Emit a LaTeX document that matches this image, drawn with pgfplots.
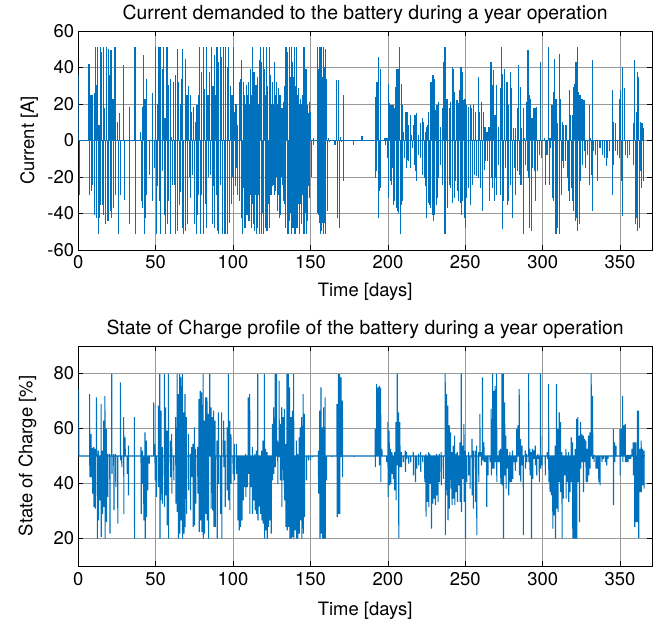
\documentclass[border=0pt]{standalone}
\usepackage{pgfplots}
\pgfplotsset{compat=1.18}
\usepackage{fontspec}
\setmainfont{TeX Gyre Heros}
\definecolor{mblue}{RGB}{0,114,189}
\pgfplotsset{
  mstyle/.style={
    scale only axis,
    xmin=0, xmax=370.6,
    xtick={0,50,...,350},
    grid=major,
    major grid style={black!40, line width=0.7bp},
    axis line style={black, line width=0.8bp},
    tick align=inside,
    major tick length=5bp,
    tick style={black, line width=0.7bp},
    xtick pos=both, ytick pos=both,
    /pgf/number format/assume math mode=true,
    tick label style={font=\fontsize{18.5}{20}\selectfont},
    label style={font=\fontsize{18.5}{20}\selectfont},
    title style={font=\fontsize{19.5}{22}\selectfont, at={(axis description cs:0.5,1)}, anchor=base, yshift=6bp},
    xticklabel style={anchor=base, yshift=-19bp},
    yticklabel style={anchor=east, inner sep=1bp, xshift=-3bp},
    cycle list={{mblue, line width=1.1bp, no markers}},
  }
}
\begin{document}
\begin{tikzpicture}
\useasboundingbox (0,0) rectangle (668bp,628bp);
\begin{axis}[mstyle,
  at={(78.3bp,378bp)}, anchor=south west,
  width=573.7bp, height=219bp,
  ymin=-60, ymax=60, ytick={-60,-40,...,60},
  title={Current demanded to the battery during a year operation},
  xlabel={Time [days]}, ylabel={Current [A]},
  xlabel style={at={(axis description cs:0.5,0)}, anchor=base, yshift=-47bp},
  ylabel style={at={(axis description cs:-0.077,0.5)}, anchor=base},
]
\addplot[mblue, line width=1.1bp, no markers] coordinates {(0,0)(365.5,0)};
\addplot[mblue, line width=1.1bp, no markers, ycomb] coordinates {
(0.4,36)(0.6,-30)
(6.9,42.1)(7.2,-29.7)(8.2,24.9)(8.5,-27.8)(9.1,24.9)(9.4,-24.2)(10.4,25.8)(10.7,-40.6)
(11.2,51.2)(11.5,-42.4)(11.6,30.3)(11.9,-20.6)(12.5,51.2)(12.8,-51.5)(13.4,8.5)(13.7,-42.4)
(14.2,51.2)(14.5,-35.1)(15.1,48.5)(15.4,-35.1)(16.0,51.2)(16.3,-40.6)(17.2,17.6)(17.5,-46.0)
(18.5,51.2)(18.8,-44.2)(19.4,50.3)(19.7,-44.2)(20.3,35.8)(20.6,-38.7)(21.1,49.4)(21.4,-42.4)
(22.4,23.0)(22.7,-36.9)(23.7,51.2)(24.0,-30.0)(25.4,10.3)(25.7,-51.5)(26.7,15.0)(27.0,-30.0)
(29.3,41.2)(29.6,-32.4)(32.8,18.5)(33.1,-46.0)(36.6,51.2)(36.9,-51.5)
(40.3,4.9)(40.6,-33.3)(41.4,18.5)(41.7,-36.9)(42.2,47.0)(42.5,-51.5)(43.1,23.0)(43.4,-42.4)
(44.0,33.9)(44.3,-30.0)(45.7,0.5)(46.0,-18.7)
(47.8,25.8)(48.1,-33.3)(48.7,0)(49.0,-15.0)
(50.0,51.2)(50.3,-51.5)(51.0,20)(51.3,-25)(52.1,51.2)(52.4,-33.3)(53.0,51.2)(53.3,-51.5)
(54.3,39.4)(54.6,-16.9)(55.1,51.2)(55.4,-40.6)(56.0,12.1)(56.3,-51.5)(57.3,51.2)(57.6,-46.0)
(58.2,30.3)(58.5,-33.3)(59.5,33.9)(59.8,-51.5)(60.3,2)(60.6,-24.2)(61.6,32.1)(61.9,-24.2)
(62.5,35.8)(62.8,-51.5)(63.8,50.3)(64.1,-49.6)(65.0,32.1)(65.3,-35.1)(65.9,20)(66.2,-28)
(66.8,33.9)(67.1,-47.8)(67.6,50.3)(67.9,-51.5)(69.0,44.9)(69.3,-49.6)(70.2,24.9)(70.5,-46.0)
(71.3,30)(71.6,-20)(72.4,24.9)(72.7,-31.5)(73.2,15.8)(73.5,-18.7)(74.5,18.5)(74.8,-46.0)
(75.8,10.3)(76.1,-51.5)(76.7,19.4)(77.0,-40.6)(77.6,25)(77.9,-30)(78.4,51.2)(78.7,-51.5)
(79.3,37.6)(79.6,-30.0)(80.6,51.2)(80.9,-51.5)(81.7,28)(82.0,-35)(82.7,51.2)(83.0,-47.8)
(83.8,25)(84.1,-20)(84.9,37.6)(85.2,-18.7)(86.2,51.2)(86.5,-46.0)(87.0,30)(87.3,-25)
(87.9,46.7)(88.2,-47.8)(88.8,25)(89.1,-30)(89.6,51.2)(89.9,-49.6)(90.5,43.0)(90.8,-51.5)
(91.8,51.2)(92.1,-24.2)(92.6,45.8)(92.9,-51.5)(93.9,51.2)(94.2,-51.5)(95.0,51.2)(95.3,-51.5)
(96.2,40)(96.5,-51.5)(97.3,51.2)(97.6,-45)(98.5,30)(98.8,-35)(99.3,25)(99.6,-20)
(100.1,51.2)(100.4,-30)(101.0,15.8)(101.3,-25)(101.9,20)(102.2,-15)(102.7,8.5)(103.0,-29.7)
(104.0,32.1)(104.3,-33.3)(104.9,33.9)(105.2,-42.4)(105.7,43.9)(106.0,-51.5)(106.6,32.1)(106.9,-26.0)
(107.4,24.9)(107.7,-47.8)(108.1,20)(108.4,-30)(108.7,30.3)(109.0,-40.6)(109.4,25)(109.7,-20)
(110.0,32.1)(110.3,-44.2)(110.7,20)(111.0,-30)(111.3,39.4)(111.6,-47.8)(112.0,25)(112.3,-35)
(112.6,51.2)(112.9,-46.0)(113.5,37.6)(113.8,-49.6)(114.2,25)(114.5,-30)(114.8,30.3)(115.1,-51.5)
(115.6,34.9)(115.9,-47.8)(116.3,20)(116.6,-30)(116.9,43.9)(117.2,-51.5)(117.8,51.2)(118.1,-51.5)
(118.6,43.0)(118.9,-40)(119.5,51.2)(119.8,-51.5)(120.4,39.4)(120.7,-47.8)(121.0,25)(121.3,-30)
(121.6,51.2)(121.9,-49.6)(122.5,30)(122.8,-35)(123.4,51.2)(123.7,-47.8)(124.2,35.8)(124.5,-29.7)
(124.9,20)(125.2,-25)(125.5,32.1)(125.8,-24.2)(126.2,20)(126.5,-30)(126.8,43.0)(127.1,-27.8)
(127.5,25)(127.8,-20)(128.1,32.1)(128.4,-38.7)(128.8,20)(129.1,-30)(129.4,28.5)(129.7,-42.4)
(130.3,24.9)(130.6,-40.6)(131.0,15)(131.3,-20)(131.6,17.6)(131.9,-24.2)(132.4,21.2)(132.7,-33.3)
(133.1,30)(133.4,-35)(133.7,51.2)(134.0,-47.8)(134.6,51.2)(134.9,-51.5)(135.4,48.5)(135.7,-51.5)
(136.3,51.2)(136.6,-44.2)(137.0,35)(137.3,-40)(137.6,51.2)(137.9,-51.5)(138.4,43.0)(138.7,-47.8)
(139.1,35)(139.4,-40)(139.7,51.2)(140.0,-51.5)(140.4,30)(140.7,-35)(141.0,51.2)(141.3,-47.8)
(141.7,25)(142.0,-35)(142.3,28.5)(142.6,-51.5)(142.9,20)(143.2,-35)(143.6,23.0)(143.9,-46.0)
(144.3,20)(144.6,-30)(144.9,24.9)(145.2,-51.5)(145.8,51.2)(146.1,-51.5)(146.5,30)(146.8,-40)
(147.1,39.4)(147.4,-51.5)(147.9,19.4)(148.2,-44.2)(148.5,15)(148.8,-25)(149.2,21.2)(149.5,-31.5)
(150.1,15.8)(150.4,-20.0)(151.8,1.2)(152.1,-2.4)
(154.4,51.2)(154.6,-40)(154.8,17.6)(155.0,-24.2)(155.2,39.4)(155.5,-40.6)(155.8,30)(156.0,-45)
(156.1,51.2)(156.4,-51.5)(157.0,51.2)(157.3,-49.6)(157.7,35)(158.0,-45)(158.3,51.2)(158.6,-51.5)
(158.9,40)(159.2,-45)(159.5,50.3)(159.8,-51.5)(160.4,33.9)(160.7,-38.7)
(161.7,1.2)(162.0,-0.6)(165.8,-2.4)
(166.9,33.0)(167.2,-42.4)(168.2,33.0)(168.5,-47.8)
(169.5,2)(169.8,-0.8)(171.2,24.9)(171.5,-22.4)
(177.6,-2.4)(183.1,2.5)(183.3,2.5)(183.5,2.5)(183.6,2.5)
(191.7,24)(192.0,-20.6)(192.5,32.1)(192.8,-16.9)(193.4,32.1)(193.7,-42.4)(194.2,45.8)(194.5,-27.8)
(195.1,39.4)(195.4,-26.0)(198.1,1.2)(198.4,-2.4)
(199.4,1.2)(199.7,-9.7)
(200.3,31.2)(200.6,-31.5)(201.1,20.3)(201.4,-22.4)(202.0,19.4)(202.3,-24.2)(202.7,10)(203.0,-15)
(203.3,19.4)(203.6,-35.1)(204.1,17.6)(204.4,-33.3)(205.0,29.4)(205.3,-36.9)(205.9,39.4)(206.2,-38.7)
(206.7,39.4)(207.0,-39.6)(207.6,51.2)(207.9,-51.5)(208.5,31.2)(208.8,-35.1)(209.3,19.4)(209.6,-33.3)
(210.2,4.9)(210.5,-9.7)(211.5,15.8)(211.8,-15.1)(212.3,15.8)(212.6,-10.6)(213.2,8.5)(213.5,-11.5)
(214.5,14.0)(214.8,-15.1)(215.3,3.1)(215.6,-4.2)(216.6,8.5)(216.9,-13.3)(217.5,14.0)(217.8,-16.9)
(218.4,14.9)(218.7,-22.4)(219.7,3.1)(220.0,-7.8)(220.9,9.4)(221.2,-9.7)(222.2,12.1)(222.5,-18.7)
(223.1,10.3)(223.4,-20.6)(224.0,4.9)(224.3,-25.0)(224.8,7.6)(225.1,-42.4)(225.7,8.5)(226.0,-34.2)
(226.5,15.8)(226.8,-35.1)(227.4,32.1)(227.7,-36.9)(228.3,32.1)(228.6,-40.6)(229.1,35.8)(229.4,-44.2)
(230.0,33.9)(230.3,-40.6)(230.9,16.7)(231.2,-35.1)(231.7,19.4)(232.0,-31.5)(232.6,21.2)(232.9,-20.6)
(233.9,7.6)(234.2,-13.3)(235.2,17.6)(235.5,-24.2)(236.0,43.0)(236.3,-51.5)(236.9,51.2)(237.2,-51.5)
(238.2,23.0)(238.5,-36.9)(239.5,17.6)(239.8,-24.2)(240.3,21.2)(240.6,-26.0)(241.6,40.3)(241.9,-34.2)
(242.5,39.4)(242.8,-31.5)(243.3,26.7)(243.6,-22.4)(244.6,22.1)(244.9,-27.8)(245.5,20.3)(245.8,-33.3)
(246.4,27.6)(246.7,-34.2)(247.2,40.3)(247.5,-40.6)(248.1,37.6)(248.4,-33.3)(248.9,22.1)(249.2,-42.4)
(249.8,23.0)(250.1,-47.8)(250.7,19.4)(251.0,-31.5)(252.0,18.5)(252.3,-26.0)(253.2,19.4)(253.5,-35.1)
(254.1,17.6)(254.4,-24.2)(255.4,19.4)(255.7,-18.7)(256.7,15.8)(257.0,-19.6)(258.4,34.9)(258.7,-20.6)
(259.3,15.8)(259.6,-26.0)(260.6,21.2)(260.9,-38.7)(261.9,15.8)(262.2,-16.0)(262.7,7.6)(263.0,-11.5)
(264.0,4.9)(264.3,-11.5)(265.3,7.6)(265.6,-33.3)(266.6,43.0)(266.9,-20.6)(267.5,30.3)(267.8,-26.0)
(268.3,38.5)(268.6,-33.3)(269.2,14.0)(269.5,-20.6)(270.0,30.3)(270.3,-29.7)(271.3,7.6)(271.6,-13.3)
(272.6,28.5)(272.9,-29.7)(273.5,51.2)(273.8,-48.7)(274.3,36.7)(274.6,-33.3)(275.6,39.4)(275.9,-15.1)
(276.9,32.1)(277.2,-35.1)(277.8,19.4)(278.1,-33.3)(279.1,37.6)(279.4,-24.2)(279.9,28.5)(280.2,-42.4)
(281.2,6.7)(281.5,-15.1)(282.3,6.7)(282.6,-29.7)(283.6,17.6)(283.9,-16.9)(284.5,41.2)(284.8,-18.7)
(285.4,29.4)(285.7,-24.2)(286.2,6.7)(286.5,-24.2)(287.5,17.6)(287.8,-51.5)(288.4,1.2)(288.7,-13.3)
(289.7,21.2)(290.0,-16.9)(290.5,49.4)(290.8,-20.6)(291.4,24.9)(291.7,-47.8)(292.2,23.0)(292.5,-49.6)
(293.1,12.1)(293.4,-15.1)(294.4,17.6)(294.7,-16.9)(295.3,17.6)(295.6,-33.3)(296.1,18.5)(296.4,-16.9)
(297.7,-7.8)(298.7,43.0)(299.0,-9.7)(301.3,1.2)(301.6,-24.2)
(302.8,-7.8)(303.9,51.2)(304.2,-24.2)(304.7,1.2)(305.0,-4.2)
(306.0,19.4)(306.3,-31.5)(306.9,26.7)(307.2,-33.3)(307.8,44.9)(308.1,-51.5)(308.6,23.0)(308.9,-51.5)
(309.5,9.4)(309.8,-47.8)(310.8,47.6)(311.1,-51.5)(311.6,23.0)(311.9,-29.7)(312.5,10.3)(312.8,-11.5)
(313.4,8.5)(313.7,-15.1)(314.6,8.5)(314.9,-11.5)(315.5,8.5)(315.8,-20.6)(316.7,-27.8)
(317.2,27.6)(317.5,-33.3)(318.1,14.0)(318.4,-26.0)(319.0,14.0)(319.3,-33.3)(319.8,29.4)(320.1,-38.7)
(320.7,31.2)(321.0,-44.2)(321.5,43.0)(321.8,-42.4)(322.4,51.2)(322.7,-49.6)(323.3,26.7)(323.6,-46.0)
(324.1,24.9)(324.4,-22.4)(325.4,23.0)(325.7,-13.3)(326.7,22.1)(327.0,-6.0)(327.9,-15.1)
(328.9,0.3)(329.2,-7.8)(330.1,19.4)(330.4,-24.2)(331.0,1.2)(331.3,-18.7)(331.9,43.9)(332.2,-38.7)
(332.7,0.3)(333.0,-6.0)(334.3,-7.8)(335.6,-22.4)(337.0,-4.2)
(338.6,-7.8)(339.9,-9.7)(341.2,-14.2)(342.1,-9.7)
(342.9,-6.0)(344.8,27.6)(345.1,-29.7)(345.7,10.3)(346.0,-13.3)
(346.9,9.4)(347.2,-6.0)(348.1,-7.8)(349.5,23.0)(349.8,-9.7)
(350.4,27.6)(350.7,-22.4)(351.3,40.3)(351.6,-41.5)(353.0,28.5)(353.3,-7.8)
(354.6,-9.7)(355.9,-7.8)
(358.6,9.4)(358.9,-13.3)(359.4,43.9)(359.7,-46.0)(360.3,15.8)(360.6,-42.4)(361.2,37.6)(361.5,-49.6)
(362.0,34.9)(362.3,-47.8)(362.9,10.3)(363.2,-16.9)(363.7,9.4)(364.0,-26.0)(364.6,9.4)(364.9,-22.4)
(365.0,6.7)(365.3,-20.6)
};
\end{axis}
\begin{axis}[mstyle,
  at={(78.3bp,62bp)}, anchor=south west,
  width=573.7bp, height=220bp,
  ymin=10, ymax=90, ytick={20,40,60,80},
  title={State of Charge profile of the battery during a year operation},
  xlabel={Time [days]}, ylabel={State of Charge [\%]},
  xlabel style={at={(axis description cs:0.5,0)}, anchor=base, yshift=-49bp},
  ylabel style={at={(axis description cs:-0.080,0.5)}, anchor=base},
]
\addplot[mblue, line width=1.1bp, no markers] coordinates {
(0.2,74.3)(0.3,50)
(7.3,50)(7.3,72.5)(7.45,42.3)(7.45,50)
(8.2,50)(8.2,58.0)(8.35,42.3)(8.35,50)
(9.1,50)(9.1,53.0)(9.25,36.3)(9.25,50)
(10.0,50)(10.0,53.2)(10.15,31.5)(10.15,50)
(10.8,50)(10.8,52.6)(10.95,30.9)(10.95,50)
(11.7,50)(11.7,71.3)(11.85,56.8)(11.85,50)
(12.2,50)(12.2,50.5)(12.35,20.0)(12.35,50)
(12.9,50)(12.9,52.0)(13.05,26.6)(13.05,50)
(13.8,50)(13.8,50.2)(13.95,33.9)(13.95,50)
(14.7,50)(14.7,68.9)(14.85,20.6)(14.85,50)
(15.5,50)(15.5,52.0)(15.65,29.0)(15.65,50)
(16.4,50)(16.4,62.9)(16.55,31.5)(16.55,50)
(17.2,50)(17.2,71.9)(17.35,20.0)(17.35,50)
(18.1,50)(18.1,59.8)(18.25,26.0)(18.25,50)
(19.0,50)(19.0,50.8)(19.15,35.1)(19.15,50)
(20.3,50)(20.3,50.8)(20.45,21.8)(20.45,50)
(21.6,50)(21.6,79.8)(21.75,43.5)(21.75,50)
(22.9,50)(22.9,50.8)(23.05,30.3)(23.05,50)
(24.1,50)(24.1,50.8)(24.25,38.7)(24.25,50)
(25.4,50)(25.4,50.2)(25.55,25.4)(25.55,50)
(27.2,50)(27.2,76.8)(27.35,48.4)(27.35,50)
(28.0,50)(28.0,50.2)(28.15,46.0)(28.15,50)
(29.3,50)(29.3,64.1)(29.45,29.0)(29.45,50)
(30.2,50)(30.2,56.8)(30.35,50.2)(30.35,50)
(31.5,50)(31.5,50.2)(31.65,43.5)(31.65,50)
(32.3,50)(32.3,53.8)(32.45,35.7)(32.45,50)
(36.2,50)(36.2,64.1)(36.35,20.0)(36.35,50)
(40.5,50)(40.5,53.2)(40.65,29.0)(40.65,50)
(41.4,50)(41.4,52.0)(41.55,39.9)(41.55,50)
(42.2,50)(42.2,50.2)(42.35,26.6)(42.35,50)
(43.1,50)(43.1,58.6)(43.25,20.0)(43.25,50)
(44.0,50)(44.0,55.6)(44.15,27.8)(44.15,50)
(44.8,50)(44.8,49.6)(44.95,37.5)(44.95,50)
(45.7,50)(45.7,50.2)(45.85,47.2)(45.85,50)
(48.7,50)(48.7,69.5)(48.85,50.2)(48.85,50)
(49.5,50)(49.5,54.4)(49.65,41.1)(49.65,50)
(50.4,50)(50.4,50.2)(50.55,35.1)(50.55,50)
(51.7,50)(51.7,68.3)(51.85,38.7)(51.85,50)
(52.6,50)(52.6,79.8)(52.75,20.0)(52.75,50)
(53.4,50)(53.4,66.5)(53.55,33.9)(53.55,50)
(54.3,50)(54.3,53.2)(54.45,32.7)(54.45,50)
(55.6,50)(55.6,79.8)(55.75,31.5)(55.75,50)
(56.4,50)(56.4,67.7)(56.55,35.7)(56.55,50)
(57.3,50)(57.3,59.2)(57.45,24.8)(57.45,50)
(58.2,50)(58.2,79.8)(58.35,20.0)(58.35,50)
(59.5,50)(59.5,55.6)(59.65,42.3)(59.65,50)
(60.3,50)(60.3,58.0)(60.45,36.3)(60.45,50)
(61.6,50)(61.6,50.2)(61.75,41.1)(61.75,50)
(62.9,50)(62.9,64.1)(63.05,32.7)(63.05,50)
(63.8,50)(63.8,79.8)(63.95,29.7)(63.95,50)
(64.6,50)(64.6,72.5)(64.75,20.0)(64.75,50)
(65.5,50)(65.5,79.8)(65.65,21.8)(65.65,50)
(66.3,50)(66.3,78.6)(66.45,26.6)(66.45,50)
(67.2,50)(67.2,79.8)(67.35,20.0)(67.35,50)
(68.1,50)(68.1,65.9)(68.25,21.8)(68.25,50)
(68.9,50)(68.9,72.5)(69.05,24.2)(69.05,50)
(69.8,50)(69.8,64.1)(69.95,29.0)(69.95,50)
(71.1,50)(71.1,58.0)(71.25,37.5)(71.25,50)
(72.4,50)(72.4,50.8)(72.55,30.3)(72.55,50)
(73.2,50)(73.2,53.2)(73.35,42.3)(73.35,50)
(74.1,50)(74.1,54.4)(74.25,24.2)(74.25,50)
(75.0,50)(75.0,60.4)(75.15,24.8)(75.15,50)
(75.8,50)(75.8,52.6)(75.95,32.7)(75.95,50)
(77.1,50)(77.1,53.2)(77.25,36.3)(77.25,50)
(78.0,50)(78.0,70.7)(78.15,22.4)(78.15,50)
(78.8,50)(78.8,73.7)(78.95,26.6)(78.95,50)
(79.7,50)(79.7,73.1)(79.85,22.4)(79.85,50)
(80.6,50)(80.6,79.8)(80.75,20.0)(80.75,50)
(81.4,50)(81.4,62.9)(81.55,21.8)(81.55,50)
(82.3,50)(82.3,71.3)(82.45,29.0)(82.45,50)
(83.1,50)(83.1,71.3)(83.25,26.6)(83.25,50)
(84.0,50)(84.0,65.3)(84.15,20.0)(84.15,50)
(84.9,50)(84.9,79.8)(85.05,50.2)(85.05,50)
(85.7,50)(85.7,67.7)(85.85,30.9)(85.85,50)
(86.6,50)(86.6,64.1)(86.75,30.3)(86.75,50)
(87.4,50)(87.4,66.5)(87.55,24.2)(87.55,50)
(88.3,50)(88.3,62.9)(88.45,24.2)(88.45,50)
(89.6,50)(89.6,55.6)(89.75,20.0)(89.75,50)
(90.5,50)(90.5,65.9)(90.65,39.9)(90.65,50)
(91.8,50)(91.8,50.2)(91.95,29.0)(91.95,50)
(92.6,50)(92.6,65.9)(92.75,20.0)(92.75,50)
(93.9,50)(93.9,62.9)(94.05,46.0)(94.05,50)
(94.8,50)(94.8,55.6)(94.95,31.5)(94.95,50)
(96.1,50)(96.1,60.4)(96.25,37.5)(96.25,50)
(96.9,50)(96.9,79.8)(97.05,33.9)(97.05,50)
(97.8,50)(97.8,62.9)(97.95,30.3)(97.95,50)
(98.6,50)(98.6,58.0)(98.75,39.9)(98.75,50)
(99.9,50)(99.9,50.2)(100.05,43.5)(100.05,50)
(100.8,50)(100.8,54.4)(100.95,41.1)(100.95,50)
(102.1,50)(102.1,54.4)(102.25,43.5)(102.25,50)
(103.0,50)(103.0,50.2)(103.15,26.6)(103.15,50)
(103.8,50)(103.8,50.2)(103.95,23.0)(103.95,50)
(104.7,50)(104.7,50.2)(104.85,24.2)(104.85,50)
(105.6,50)(105.6,50.2)(105.75,26.6)(105.75,50)
(106.4,50)(106.4,50.2)(106.55,33.9)(106.55,50)
(107.3,50)(107.3,50.2)(107.45,38.7)(107.45,50)
(108.1,50)(108.1,50.8)(108.25,35.1)(108.25,50)
(109.0,50)(109.0,50.2)(109.15,38.7)(109.15,50)
(109.8,50)(109.8,71.3)(109.95,43.5)(109.95,50)
(110.7,50)(110.7,72.5)(110.85,29.0)(110.85,50)
(111.6,50)(111.6,50.2)(111.75,38.7)(111.75,50)
(112.4,50)(112.4,53.2)(112.55,29.0)(112.55,50)
(113.3,50)(113.3,49.6)(113.45,33.9)(113.45,50)
(114.1,50)(114.1,50.8)(114.25,30.3)(114.25,50)
(115.0,50)(115.0,52.0)(115.15,29.0)(115.15,50)
(115.9,50)(115.9,79.8)(116.05,26.6)(116.05,50)
(116.7,50)(116.7,50.2)(116.85,31.5)(116.85,50)
(117.6,50)(117.6,50.2)(117.75,29.0)(117.75,50)
(118.5,50)(118.5,52.0)(118.65,26.6)(118.65,50)
(119.3,50)(119.3,55.6)(119.45,25.4)(119.45,50)
(120.2,50)(120.2,79.8)(120.35,20.0)(120.35,50)
(121.0,50)(121.0,52.6)(121.15,23.0)(121.15,50)
(121.9,50)(121.9,51.4)(122.05,20.0)(122.05,50)
(122.8,50)(122.8,50.2)(122.95,24.2)(122.95,50)
(123.6,50)(123.6,50.2)(123.75,26.6)(123.75,50)
(124.5,50)(124.5,50.2)(124.65,21.8)(124.65,50)
(125.4,50)(125.4,61.7)(125.55,41.1)(125.55,50)
(126.2,50)(126.2,67.7)(126.35,43.5)(126.35,50)
(127.1,50)(127.1,79.8)(127.25,46.0)(127.25,50)
(128.0,50)(128.0,79.8)(128.15,50.2)(128.15,50)
(128.8,50)(128.8,55.6)(128.95,39.9)(128.95,50)
(129.7,50)(129.7,77.4)(129.85,49.6)(129.85,50)
(130.5,50)(130.5,61.7)(130.65,41.1)(130.65,50)
(131.4,50)(131.4,67.7)(131.55,31.5)(131.55,50)
(132.3,50)(132.3,64.1)(132.45,41.1)(132.45,50)
(133.1,50)(133.1,67.1)(133.25,33.9)(133.25,50)
(134.0,50)(134.0,54.4)(134.15,24.2)(134.15,50)
(134.8,50)(134.8,79.8)(134.95,23.0)(134.95,50)
(135.7,50)(135.7,79.8)(135.85,24.2)(135.85,50)
(136.5,50)(136.5,75.0)(136.65,20.0)(136.65,50)
(137.4,50)(137.4,64.1)(137.55,20.0)(137.55,50)
(138.3,50)(138.3,66.5)(138.45,20.6)(138.45,50)
(139.1,50)(139.1,79.8)(139.25,20.0)(139.25,50)
(140.0,50)(140.0,50.2)(140.15,23.0)(140.15,50)
(140.9,50)(140.9,55.6)(141.05,20.0)(141.05,50)
(141.7,50)(141.7,50.8)(141.85,20.0)(141.85,50)
(142.6,50)(142.6,56.8)(142.75,21.8)(142.75,50)
(143.4,50)(143.4,60.4)(143.55,26.6)(143.55,50)
(144.3,50)(144.3,64.1)(144.45,20.0)(144.45,50)
(145.2,50)(145.2,72.5)(145.35,21.8)(145.35,50)
(146.0,50)(146.0,65.3)(146.15,27.8)(146.15,50)
(147.3,50)(147.3,50.2)(147.45,41.1)(147.45,50)
(148.6,50)(148.6,50.2)(148.75,48.4)(148.75,50)
(149.9,50)(149.9,50.2)(150.05,48.4)(150.05,50)
(151.2,50)(151.2,50.2)(151.35,49.6)(151.35,50)
(155.1,50)(155.1,52.0)(155.25,36.3)(155.25,50)
(156.0,50)(156.0,66.5)(156.15,20.0)(156.15,50)
(156.8,50)(156.8,75.0)(156.95,21.8)(156.95,50)
(157.7,50)(157.7,60.4)(157.85,20.0)(157.85,50)
(158.5,50)(158.5,67.7)(158.65,20.0)(158.65,50)
(159.4,50)(159.4,71.3)(159.55,20.0)(159.55,50)
(160.2,50)(160.2,50.2)(160.35,41.1)(160.35,50)
(163.7,50)(163.7,50.2)(163.85,49.6)(163.85,50)
(167.1,50)(167.1,68.9)(167.25,27.8)(167.25,50)
(168.0,50)(168.0,79.8)(168.15,29.0)(168.15,50)
(168.8,50)(168.8,79.8)(168.95,29.0)(168.95,50)
(169.7,50)(169.7,78.6)(169.85,49.6)(169.85,50)
(170.6,50)(170.6,70.1)(170.75,42.3)(170.75,50)
(177.9,50)(177.9,50.2)(178.05,49.6)(178.05,50)
(191.8,50)(191.8,59.8)(191.95,46.0)(191.95,50)
(192.7,50)(192.7,76.2)(192.85,52.6)(192.85,50)
(193.5,50)(193.5,74.9)(193.65,50.2)(193.65,50)
(194.4,50)(194.4,75.5)(194.55,46.6)(194.55,50)
(195.3,50)(195.3,74.9)(195.45,40.5)(195.45,50)
(196.1,50)(196.1,52.6)(196.25,50.2)(196.25,50)
(199.1,50)(199.1,50.2)(199.25,47.8)(199.25,50)
(200.0,50)(200.0,62.3)(200.15,35.1)(200.15,50)
(200.8,50)(200.8,59.2)(200.95,39.3)(200.95,50)
(201.7,50)(201.7,52.6)(201.85,39.9)(201.85,50)
(202.6,50)(202.6,51.4)(202.75,43.5)(202.75,50)
(203.4,50)(203.4,50.2)(203.55,41.7)(203.55,50)
(204.3,50)(204.3,51.4)(204.45,37.5)(204.45,50)
(205.2,50)(205.2,62.3)(205.35,33.9)(205.35,50)
(206.0,50)(206.0,80.0)(206.15,46.6)(206.15,50)
(206.9,50)(206.9,65.9)(207.05,20.1)(207.05,50)
(207.7,50)(207.7,62.3)(207.85,46.0)(207.85,50)
(208.6,50)(208.6,51.4)(208.75,46.0)(208.75,50)
(209.9,50)(209.9,50.2)(210.05,47.8)(210.05,50)
(211.2,50)(211.2,52.0)(211.35,44.2)(211.35,50)
(212.0,50)(212.0,51.4)(212.15,49.0)(212.15,50)
(213.3,50)(213.3,50.2)(213.45,47.2)(213.45,50)
(214.6,50)(214.6,50.2)(214.75,47.8)(214.75,50)
(216.4,50)(216.4,51.4)(216.55,43.0)(216.55,50)
(217.7,50)(217.7,50.2)(217.85,40.5)(217.85,50)
(218.5,50)(218.5,50.2)(218.65,45.4)(218.65,50)
(219.8,50)(219.8,50.8)(219.95,46.6)(219.95,50)
(221.1,50)(221.1,51.4)(221.25,44.2)(221.25,50)
(222.4,50)(222.4,50.2)(222.55,47.8)(222.55,50)
(223.7,50)(223.7,50.2)(223.85,40.5)(223.85,50)
(224.5,50)(224.5,50.8)(224.65,28.0)(224.65,50)
(225.4,50)(225.4,49.6)(225.55,33.3)(225.55,50)
(226.3,50)(226.3,51.4)(226.45,31.5)(226.45,50)
(227.1,50)(227.1,50.8)(227.25,39.9)(227.25,50)
(228.0,50)(228.0,50.2)(228.15,23.6)(228.15,50)
(228.8,50)(228.8,50.2)(228.95,32.7)(228.95,50)
(229.7,50)(229.7,49.6)(229.85,34.5)(229.85,50)
(230.6,50)(230.6,50.2)(230.75,32.1)(230.75,50)
(231.4,50)(231.4,50.8)(231.55,35.7)(231.55,50)
(232.3,50)(232.3,50.2)(232.45,33.3)(232.45,50)
(233.2,50)(233.2,50.8)(233.35,40.5)(233.35,50)
(234.4,50)(234.4,51.4)(234.55,39.3)(234.55,50)
(235.7,50)(235.7,50.2)(235.85,41.7)(235.85,50)
(237.0,50)(237.0,80.0)(237.15,21.2)(237.15,50)
(237.9,50)(237.9,72.5)(238.05,35.7)(238.05,50)
(238.7,50)(238.7,68.3)(238.85,26.6)(238.85,50)
(239.6,50)(239.6,61.1)(239.75,30.9)(239.75,50)
(240.5,50)(240.5,58.6)(240.65,38.1)(240.65,50)
(241.3,50)(241.3,51.4)(241.45,32.1)(241.45,50)
(242.2,50)(242.2,53.8)(242.35,34.5)(242.35,50)
(243.1,50)(243.1,57.4)(243.25,32.1)(243.25,50)
(243.9,50)(243.9,50.8)(244.05,36.9)(244.05,50)
(244.8,50)(244.8,51.4)(244.95,33.3)(244.95,50)
(245.6,50)(245.6,50.2)(245.75,39.3)(245.75,50)
(246.5,50)(246.5,55.0)(246.65,33.3)(246.65,50)
(247.4,50)(247.4,80.0)(247.55,29.7)(247.55,50)
(248.2,50)(248.2,53.8)(248.35,41.7)(248.35,50)
(249.1,50)(249.1,61.7)(249.25,33.3)(249.25,50)
(250.0,50)(250.0,52.0)(250.15,20.0)(250.15,50)
(250.8,50)(250.8,50.2)(250.95,40.5)(250.95,50)
(252.1,50)(252.1,51.4)(252.25,43.0)(252.25,50)
(253.0,50)(253.0,50.2)(253.15,38.1)(253.15,50)
(254.3,50)(254.3,56.2)(254.45,35.7)(254.45,50)
(255.1,50)(255.1,52.0)(255.25,30.9)(255.25,50)
(256.4,50)(256.4,52.0)(256.55,33.3)(256.55,50)
(257.3,50)(257.3,53.8)(257.45,21.2)(257.45,50)
(258.6,50)(258.6,51.4)(258.75,40.5)(258.75,50)
(259.4,50)(259.4,65.3)(259.55,51.0)(259.55,50)
(260.3,50)(260.3,51.4)(260.45,46.6)(260.45,50)
(261.1,50)(261.1,78.6)(261.25,48.4)(261.25,50)
(262.0,50)(262.0,55.0)(262.15,47.8)(262.15,50)
(262.9,50)(262.9,49.0)(263.05,47.8)(263.05,50)
(263.7,50)(263.7,50.2)(263.85,31.5)(263.85,50)
(264.6,50)(264.6,50.2)(264.75,43.0)(264.75,50)
(265.9,50)(265.9,49.6)(266.05,47.8)(266.05,50)
(266.7,50)(266.7,67.1)(266.85,43.0)(266.85,50)
(267.6,50)(267.6,80.0)(267.75,45.4)(267.75,50)
(268.5,50)(268.5,73.7)(268.65,45.4)(268.65,50)
(269.3,50)(269.3,75.5)(269.45,47.8)(269.45,50)
(270.2,50)(270.2,80.0)(270.35,40.5)(270.35,50)
(271.1,50)(271.1,50.2)(271.25,47.8)(271.25,50)
(271.9,50)(271.9,52.0)(272.05,47.8)(272.05,50)
(272.8,50)(272.8,52.6)(272.95,39.9)(272.95,50)
(273.6,50)(273.6,80.0)(273.75,39.3)(273.75,50)
(274.5,50)(274.5,80.0)(274.65,20.0)(274.65,50)
(275.4,50)(275.4,69.5)(275.55,43.0)(275.55,50)
(276.2,50)(276.2,57.4)(276.35,38.1)(276.35,50)
(277.1,50)(277.1,52.6)(277.25,45.4)(277.25,50)
(277.9,50)(277.9,50.2)(278.05,35.7)(278.05,50)
(278.8,50)(278.8,51.4)(278.95,40.5)(278.95,50)
(279.7,50)(279.7,50.2)(279.85,40.5)(279.85,50)
(280.5,50)(280.5,52.0)(280.65,41.7)(280.65,50)
(281.4,50)(281.4,50.2)(281.55,47.8)(281.55,50)
(282.2,50)(282.2,50.2)(282.35,44.6)(282.35,50)
(283.1,50)(283.1,59.8)(283.25,47.8)(283.25,50)
(284.0,50)(284.0,61.1)(284.15,52.6)(284.15,50)
(284.8,50)(284.8,74.3)(284.95,43.0)(284.95,50)
(285.7,50)(285.7,56.2)(285.85,40.5)(285.85,50)
(286.6,50)(286.6,53.8)(286.75,46.6)(286.75,50)
(287.4,50)(287.4,50.2)(287.55,21.2)(287.55,50)
(288.7,50)(288.7,52.0)(288.85,45.4)(288.85,50)
(289.6,50)(289.6,50.8)(289.75,47.8)(289.75,50)
(290.9,50)(290.9,80.0)(291.05,47.8)(291.05,50)
(291.7,50)(291.7,52.6)(291.85,43.0)(291.85,50)
(292.6,50)(292.6,51.4)(292.75,20.0)(292.75,50)
(293.4,50)(293.4,52.6)(293.55,41.7)(293.55,50)
(294.3,50)(294.3,52.0)(294.45,49.0)(294.45,50)
(295.2,50)(295.2,53.8)(295.35,46.6)(295.35,50)
(296.0,50)(296.0,50.2)(296.15,43.0)(296.15,50)
(296.9,50)(296.9,50.8)(297.05,49.0)(297.05,50)
(297.7,50)(297.7,50.2)(297.85,40.5)(297.85,50)
(298.6,50)(298.6,80.0)(298.75,45.4)(298.75,50)
(299.5,50)(299.5,50.2)(299.65,46.6)(299.65,50)
(301.6,50)(301.6,50.2)(301.75,43.0)(301.75,50)
(302.9,50)(302.9,51.4)(303.05,49.0)(303.05,50)
(303.8,50)(303.8,76.2)(303.95,40.5)(303.95,50)
(304.6,50)(304.6,50.2)(304.75,36.9)(304.75,50)
(305.5,50)(305.5,50.2)(305.65,35.7)(305.65,50)
(306.4,50)(306.4,50.2)(306.55,23.6)(306.55,50)
(307.2,50)(307.2,50.2)(307.35,28.4)(307.35,50)
(308.1,50)(308.1,53.8)(308.25,20.0)(308.25,50)
(308.9,50)(308.9,76.2)(309.05,30.9)(309.05,50)
(309.8,50)(309.8,59.8)(309.95,29.7)(309.95,50)
(310.7,50)(310.7,65.9)(310.85,40.5)(310.85,50)
(311.5,50)(311.5,62.3)(311.65,36.9)(311.65,50)
(312.4,50)(312.4,51.4)(312.55,20.0)(312.55,50)
(313.2,50)(313.2,50.2)(313.35,34.5)(313.35,50)
(314.1,50)(314.1,50.2)(314.25,43.0)(314.25,50)
(315.0,50)(315.0,52.6)(315.15,34.5)(315.15,50)
(315.8,50)(315.8,50.2)(315.95,40.5)(315.95,50)
(316.7,50)(316.7,51.4)(316.85,33.3)(316.85,50)
(317.6,50)(317.6,50.2)(317.75,36.9)(317.75,50)
(318.4,50)(318.4,56.8)(318.55,40.5)(318.55,50)
(319.3,50)(319.3,55.0)(319.45,20.0)(319.45,50)
(320.1,50)(320.1,50.2)(320.25,20.0)(320.25,50)
(321.0,50)(321.0,52.6)(321.15,20.0)(321.15,50)
(321.9,50)(321.9,63.5)(322.05,20.0)(322.05,50)
(322.7,50)(322.7,64.1)(322.85,40.5)(322.85,50)
(323.6,50)(323.6,57.4)(323.75,26.0)(323.75,50)
(324.5,50)(324.5,62.3)(324.65,45.4)(324.65,50)
(325.3,50)(325.3,58.0)(325.45,47.8)(325.45,50)
(326.2,50)(326.2,57.4)(326.35,36.9)(326.35,50)
(327.1,50)(327.1,56.2)(327.25,47.8)(327.25,50)
(327.9,50)(327.9,55.6)(328.05,40.5)(328.05,50)
(328.8,50)(328.8,52.6)(328.95,40.5)(328.95,50)
(329.6,50)(329.6,57.4)(329.75,43.0)(329.75,50)
(330.5,50)(330.5,58.6)(330.65,45.4)(330.65,50)
(331.3,50)(331.3,80.0)(331.45,50.2)(331.45,50)
(332.2,50)(332.2,71.9)(332.35,49.0)(332.35,50)
(333.1,50)(333.1,50.4)(333.25,47.8)(333.25,50)
(334.3,50)(334.3,50.2)(334.45,45.4)(334.45,50)
(335.2,50)(335.2,50.2)(335.35,45.4)(335.35,50)
(336.1,50)(336.1,50.2)(336.25,40.5)(336.25,50)
(336.9,50)(336.9,50.2)(337.05,39.3)(337.05,50)
(338.2,50)(338.2,50.2)(338.35,47.8)(338.35,50)
(339.1,50)(339.1,50.2)(339.25,49.0)(339.25,50)
(340.4,50)(340.4,50.2)(340.55,47.8)(340.55,50)
(341.2,50)(341.2,50.2)(341.35,46.6)(341.35,50)
(342.1,50)(342.1,50.2)(342.25,49.0)(342.25,50)
(345.6,50)(345.6,59.8)(345.75,32.1)(345.75,50)
(346.4,50)(346.4,55.0)(346.55,47.8)(346.55,50)
(347.3,50)(347.3,53.8)(347.45,50.2)(347.45,50)
(349.9,50)(349.9,59.8)(350.05,43.0)(350.05,50)
(350.7,50)(350.7,59.8)(350.85,50.2)(350.85,50)
(351.6,50)(351.6,71.9)(351.75,47.8)(351.75,50)
(352.4,50)(352.4,61.1)(352.55,50.2)(352.55,50)
(353.3,50)(353.3,61.7)(353.45,47.8)(353.45,50)
(354.2,50)(354.2,50.4)(354.35,47.8)(354.35,50)
(355.0,50)(355.0,50.4)(355.15,47.8)(355.15,50)
(355.9,50)(355.9,50.4)(356.05,49.0)(356.05,50)
(356.7,50)(356.7,50.4)(356.85,49.0)(356.85,50)
(357.6,50)(357.6,52.6)(357.75,50.2)(357.75,50)
(358.5,50)(358.5,55.0)(358.65,43.0)(358.65,50)
(359.3,50)(359.3,55.0)(359.45,24.2)(359.45,50)
(360.2,50)(360.2,55.0)(360.35,26.0)(360.35,50)
(361.1,50)(361.1,66.5)(361.25,26.0)(361.25,50)
(361.9,50)(361.9,66.5)(362.05,20.1)(362.05,50)
(362.8,50)(362.8,52.6)(362.95,36.9)(362.95,50)
(363.6,50)(363.6,55.6)(363.75,36.9)(363.75,50)
(364.5,50)(364.5,52.6)(364.65,39.3)(364.65,50)
(365.4,50)(365.4,52.0)(365.55,38.1)(365.55,50)(366,50)
};
\end{axis}
\end{tikzpicture}
\end{document}
